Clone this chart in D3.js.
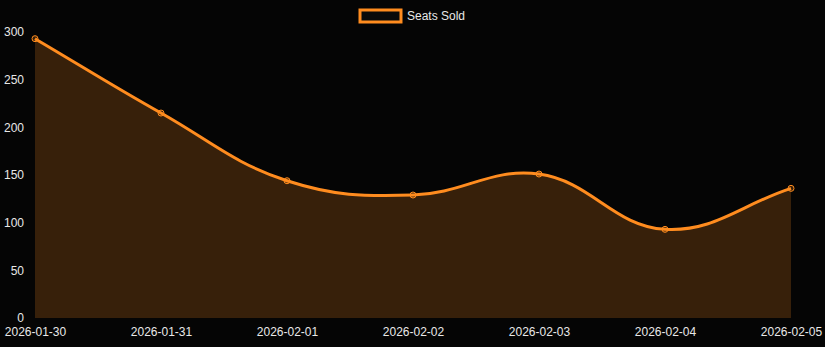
<!DOCTYPE html>
<html><head><meta charset="utf-8">
<script src="https://cdn.jsdelivr.net/npm/d3@7"></script>
<style>html,body{margin:0;padding:0;background:#050505;}svg{display:block;}</style>
</head><body>
<svg id="c" width="825" height="347"></svg>
<script>
const categories = ["2026-01-30","2026-01-31","2026-02-01","2026-02-02","2026-02-03","2026-02-04","2026-02-05"];
const seatsSold = [293, 215, 144, 129, 151, 93, 136];
const yTicks = [0, 50, 100, 150, 200, 250, 300];
const seriesName = "Seats Sold";

(function () {
const W = 825, H = 347;
const pLeft = 35, pRight = 791, pTop = 32, pBottom = 318;
const lineColor = "#ff8c1f";
const font = "Liberation Sans, Arial, Helvetica, sans-serif";

const svg = d3.select("#c");
svg.append("rect").attr("width", W).attr("height", H).attr("fill", "#050505");

const x = d3.scalePoint().domain(categories).range([pLeft, pRight]);
const y = d3.scaleLinear().domain([0, 300]).range([pBottom, pTop]);

const pts = categories.map((c, i) => ({x: x(c), y: y(seatsSold[i])}));

// Chart.js-like spline (tension 0.4)
const t = 0.4;
const cps = pts.map((p, i) => {
  const prev = pts[i - 1] || p, next = pts[i + 1] || p;
  const d01 = Math.hypot(p.x - prev.x, p.y - prev.y);
  const d12 = Math.hypot(next.x - p.x, next.y - p.y);
  let s01 = d01 / (d01 + d12), s12 = d12 / (d01 + d12);
  if (isNaN(s01)) s01 = 0; if (isNaN(s12)) s12 = 0;
  const fa = t * s01, fb = t * s12;
  const clampY = v => Math.max(pTop - 32, Math.min(pBottom, v));
  return {
    px: p.x - fa * (next.x - prev.x), py: clampY(p.y - fa * (next.y - prev.y)),
    nx: p.x + fb * (next.x - prev.x), ny: clampY(p.y + fb * (next.y - prev.y))
  };
});
function buildPath(ctx) {
  ctx.moveTo(pts[0].x, pts[0].y);
  for (let i = 1; i < pts.length; i++) {
    ctx.bezierCurveTo(cps[i - 1].nx, cps[i - 1].ny, cps[i].px, cps[i].py, pts[i].x, pts[i].y);
  }
}
const linePath = d3.path(); buildPath(linePath);
const areaPath = d3.path(); buildPath(areaPath);
areaPath.lineTo(pts[pts.length - 1].x, y(0));
areaPath.lineTo(pts[0].x, y(0));
areaPath.closePath();

svg.append("path").attr("d", areaPath.toString()).attr("fill", "rgba(255,140,31,0.2)");
svg.append("path").attr("d", linePath.toString()).attr("fill", "none")
  .attr("stroke", lineColor).attr("stroke-width", 3);

svg.append("g").selectAll("circle").data(pts).join("circle")
  .attr("cx", d => d.x).attr("cy", d => d.y).attr("r", 3)
  .attr("fill", "rgba(255,140,31,0.2)").attr("stroke", lineColor).attr("stroke-width", 1);

// Y axis
const yAxis = d3.axisLeft(y).tickValues(yTicks).tickSize(0).tickPadding(11);
const gy = svg.append("g").attr("transform", `translate(${pLeft},0)`).call(yAxis);
gy.select(".domain").remove();
gy.selectAll("text").attr("fill", "#e8e8e8").style("font-family", font).style("font-size", "12px");

// X axis
const xAxis = d3.axisBottom(x).tickSize(0).tickPadding(9);
const gx = svg.append("g").attr("transform", `translate(0,${pBottom})`).call(xAxis);
gx.select(".domain").remove();
gx.selectAll("text").attr("fill", "#e8e8e8").style("font-family", font).style("font-size", "12px");

// Legend
const lg = svg.append("g");
lg.append("rect").attr("x", 360).attr("y", 10).attr("width", 41).attr("height", 12)
  .attr("fill", "#0a0a0a").attr("stroke", lineColor).attr("stroke-width", 3);
lg.append("text").attr("x", 407).attr("y", 16).attr("dy", "0.35em").text(seriesName)
  .attr("fill", "#e8e8e8").style("font-family", font).style("font-size", "12px");
})();
</script>
</body></html>
